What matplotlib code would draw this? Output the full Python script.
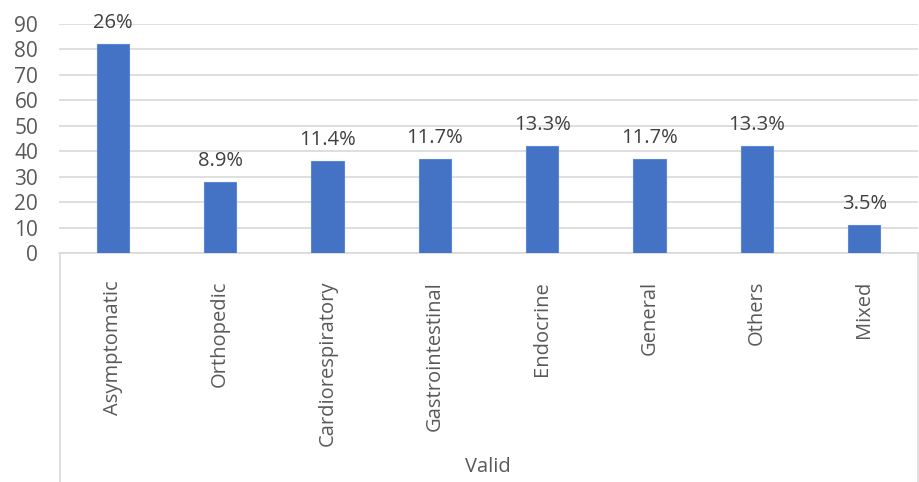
import matplotlib.pyplot as plt
from matplotlib.lines import Line2D

# Category data
categories = ['Asymptomatic', 'Orthopedic', 'Cardiorespiratory', 'Gastrointestinal',
              'Endocrine', 'General', 'Others', 'Mixed']
counts = [82, 28, 36, 37, 42, 37, 42, 11]
pct_labels = ['26%', '8.9%', '11.4%', '11.7%', '13.3%', '11.7%', '13.3%', '3.5%']
group_label = 'Valid'
yticks = [0, 10, 20, 30, 40, 50, 60, 70, 80, 90]

plt.rcParams['font.family'] = ['Open Sans', 'DejaVu Sans']
txt = '#595959'
grid = '#D9D9D9'

fig = plt.figure(figsize=(9.19, 4.82), dpi=100)
ax = fig.add_axes([59 / 919, (482 - 253) / 482, (918 - 59) / 919, (253 - 24) / 482])

x = list(range(len(categories)))
ax.bar(x, counts, width=0.3, color='#4472C4', edgecolor='#5B87D6', linewidth=0.8, zorder=3)

for xi, c, lab in zip(x, counts, pct_labels):
    ax.annotate(lab, (xi, c), xytext=(0, 8), textcoords='offset points',
                ha='center', va='bottom', fontsize=14.5, color='#404040')

ax.set_xlim(-0.5, len(categories) - 0.5)
ax.set_ylim(0, 90)
ax.set_yticks(yticks)
ax.tick_params(axis='y', length=0, pad=15, labelsize=15, labelcolor=txt)
ax.set_xticks(x)
ax.set_xticklabels(categories, rotation=90, fontsize=14.5, color=txt)
ax.tick_params(axis='x', length=0, pad=20)
ax.yaxis.grid(True, color=grid, linewidth=1.2, zorder=0)
for s in ['top', 'right', 'left']:
    ax.spines[s].set_visible(False)
ax.spines['bottom'].set_color(grid)
ax.spines['bottom'].set_linewidth(1.2)

# multi-level category box below the axis
y0 = (482 - 253) / 482
for xf in [59.5 / 919, 917.5 / 919]:
    fig.add_artist(Line2D([xf, xf], [0, y0], color=grid, linewidth=1.2))
fig.text(488 / 919, (482 - 467) / 482, group_label, ha='center', va='center',
         fontsize=14.5, color=txt)

fig.savefig('out.png', dpi=100, facecolor='white')
